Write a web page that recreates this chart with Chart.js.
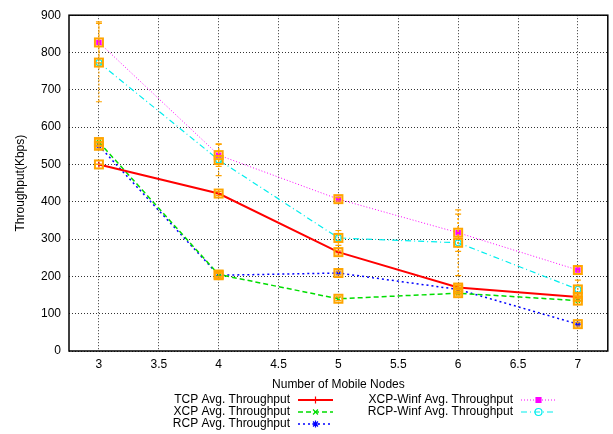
<!DOCTYPE html>
<html>
<head>
<meta charset="utf-8">
<script src="https://cdn.jsdelivr.net/npm/chart.js@4"></script>
<style>
  html, body { margin: 0; padding: 0; background: #fff; }
  #wrap { width: 613px; height: 434px; }
</style>
</head>
<body>
<div id="wrap"><canvas id="chart1" width="613" height="434"></canvas></div>
<script>
"use strict";

// データ
const nodes = [3, 4, 5, 6, 7];
const xTicks = [3, 3.5, 4, 4.5, 5, 5.5, 6, 6.5, 7];
const tcpThr = [500, 422, 265, 170, 145];
const xcpThr = [560, 205, 140, 155, 135];
const rcpThr = [550, 203, 209, 165, 72];
const xcpWinfThr = [827, 525, 407, 317, 217];
const rcpWinfThr = [773, 512, 303, 290, 165];
// 誤差 (±)
const tcpErr = [0, 5, 5, 5, 5];
const xcpErr = [8, 5, 5, 5, 10];
const rcpErr = [8, 5, 5, 5, 5];
const xcpWinfErr = [55, 30, 5, 50, 10];
const rcpWinfErr = [105, 42, 20, 88, 25];

const FONT = "'Liberation Sans', Arial, sans-serif";
const ORANGE = "#ffa500";

const toPts = (arr) => arr.map((v, i) => ({ x: nodes[i], y: v }));

const makeSet = (label, data, err, color, dash, style, fill, width) => ({
    label: label,
    data: toPts(data),
    err: err,
    borderColor: color,
    backgroundColor: fill ? color : "rgba(0,0,0,0)",
    borderDash: dash,
    borderWidth: width,
    pointStyle: style,
    pointRadius: 3,
    pointBorderWidth: 1.2,
    pointBorderColor: color,
    pointBackgroundColor: fill ? color : "rgba(0,0,0,0)",
    tension: 0,
    fill: false,
});

const datasets = [
    makeSet("TCP Avg. Throughput", tcpThr, tcpErr, "#ff0000", [], "cross", false, 2),
    makeSet("XCP Avg. Throughput", xcpThr, xcpErr, "#00dd00", [5, 3], "crossRot", false, 1.5),
    makeSet("RCP Avg. Throughput", rcpThr, rcpErr, "#0000ff", [2, 3], "star", false, 1.5),
    makeSet("XCP-Winf Avg. Throughput", xcpWinfThr, xcpWinfErr, "#ff00ff", [1, 2], "rect", true, 1),
    makeSet("RCP-Winf Avg. Throughput", rcpWinfThr, rcpWinfErr, "#00eeee", [6, 3, 1, 3], "circle", false, 1.2),
];

// 誤差棒とオレンジの四角
const errorBarPlugin = {
    id: "errorBars",
    afterDatasetsDraw(chart) {
        const ctx = chart.ctx;
        const a = chart.chartArea;
        const xs = chart.scales.x;
        const ys = chart.scales.y;
        ctx.save();
        ctx.beginPath();
        ctx.rect(a.left, a.top, a.right - a.left, a.bottom - a.top);
        ctx.clip();
        chart.data.datasets.forEach((ds) => {
            ds.data.forEach((p, i) => {
                const e = ds.err[i];
                const px = xs.getPixelForValue(p.x);
                const top = ys.getPixelForValue(p.y + e);
                const bot = ys.getPixelForValue(p.y - e);
                ctx.strokeStyle = ORANGE;
                ctx.lineWidth = 1.2;
                ctx.setLineDash([2, 2]);
                ctx.beginPath();
                ctx.moveTo(px, top);
                ctx.lineTo(px, bot);
                ctx.stroke();
                ctx.setLineDash([]);
                ctx.beginPath();
                ctx.moveTo(px - 3, top);
                ctx.lineTo(px + 3, top);
                ctx.moveTo(px - 3, bot);
                ctx.lineTo(px + 3, bot);
                ctx.stroke();
                const py = ys.getPixelForValue(p.y);
                ctx.lineWidth = 2;
                ctx.strokeRect(px - 4, py - 4, 8, 8);
            });
        });
        ctx.restore();
    },
    afterDraw(chart) {
        const ctx = chart.ctx;
        const a = chart.chartArea;
        ctx.save();
        // 枠
        ctx.strokeStyle = "#000";
        ctx.lineWidth = 1.5;
        ctx.setLineDash([]);
        ctx.strokeRect(a.left, a.top, a.right - a.left, a.bottom - a.top);
        // 凡例
        const rows = [
            [290, 400], [290, 412], [290, 424],
            [513, 400], [513, 412],
        ];
        ctx.font = "12px " + FONT;
        ctx.textAlign = "right";
        ctx.textBaseline = "middle";
        chart.data.datasets.forEach((ds, i) => {
            const [tx, ty] = rows[i];
            ctx.fillStyle = "#000";
            ctx.fillText(ds.label, tx, ty);
            const x0 = tx + 8;
            const x1 = tx + 43;
            ctx.strokeStyle = ds.borderColor;
            ctx.lineWidth = ds.borderWidth;
            ctx.setLineDash(ds.borderDash);
            ctx.beginPath();
            ctx.moveTo(x0, ty);
            ctx.lineTo(x1, ty);
            ctx.stroke();
            ctx.setLineDash([]);
            if (Chart.helpers && Chart.helpers.drawPoint) {
                ctx.fillStyle = ds.pointBackgroundColor;
                ctx.lineWidth = 1.2;
                Chart.helpers.drawPoint(ctx, {
                    pointStyle: ds.pointStyle,
                    radius: 3.5,
                    rotation: 0,
                    borderWidth: 1.2,
                }, (x0 + x1) / 2, ty);
            }
        });
        ctx.restore();
    },
};

const chartOptions = {
    responsive: false,
    animation: false,
    layout: { padding: { top: 14, right: 4, left: 0, bottom: 42 } },
    plugins: {
        legend: { display: false },
        tooltip: { enabled: false },
    },
    scales: {
        x: {
            type: "linear",
            min: 2.75,
            max: 7.25,
            afterBuildTicks: (axis) => {
                axis.ticks = xTicks.map((v) => ({ value: v }));
            },
            afterFit: (axis) => { axis.height = 41; },
            grid: {
                color: "#333",
                lineWidth: 1,
                drawTicks: false,
            },
            border: { display: false, dash: [1, 2] },
            ticks: {
                color: "#000",
                font: { family: FONT, size: 12 },
                padding: 6,
                maxRotation: 0,
                callback: (v) => String(v),
            },
            title: {
                display: true,
                text: "Number of Mobile Nodes",
                color: "#000",
                font: { family: FONT, size: 12 },
                padding: { top: 4, bottom: 0 },
            },
        },
        y: {
            min: 0,
            max: 900,
            afterFit: (axis) => { axis.width = 69; },
            grid: {
                color: "#333",
                lineWidth: 1,
                drawTicks: false,
            },
            border: { display: false, dash: [1, 2] },
            ticks: {
                stepSize: 100,
                color: "#000",
                font: { family: FONT, size: 12 },
                padding: 8,
            },
            title: {
                display: true,
                text: "Throughput(Kbps)",
                color: "#000",
                font: { family: FONT, size: 12 },
                padding: { top: 13, bottom: 0 },
            },
        },
    },
};

const drawChart = () => {
    const context = document.getElementById("chart1").getContext("2d");
    return new Chart(context, {
        type: "line",
        data: { datasets: datasets },
        options: chartOptions,
        plugins: [errorBarPlugin],
    });
};

const myChart = drawChart();
</script>
</body>
</html>
